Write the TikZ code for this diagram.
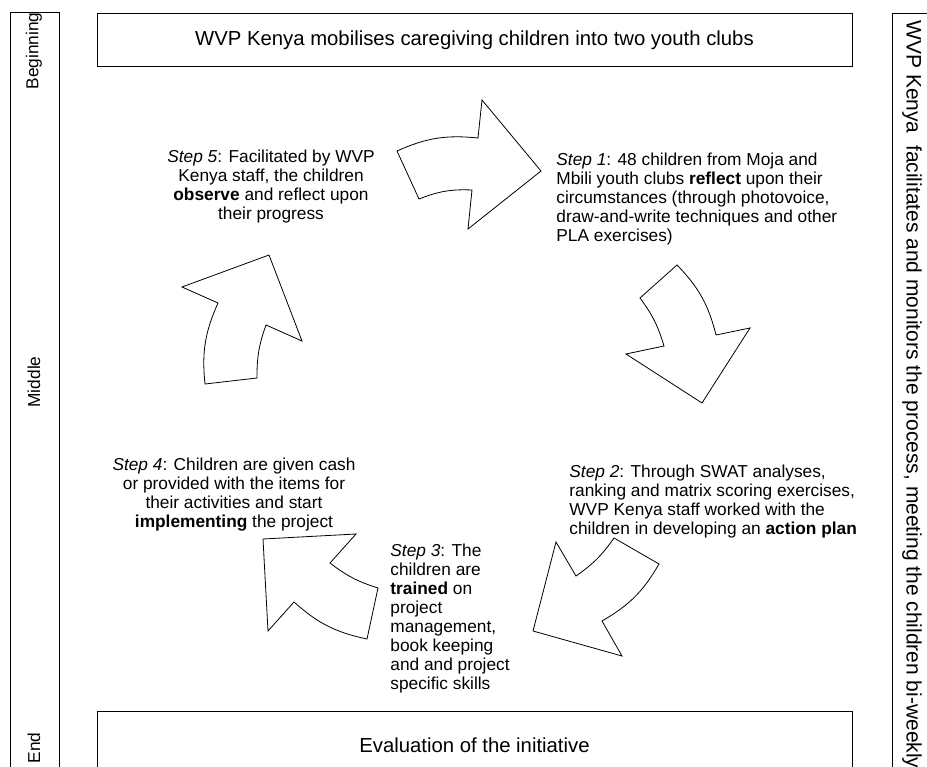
\documentclass[tikz,border=0pt]{standalone}
\usepackage{fontspec}
\setmainfont{Liberation Sans}
\newcommand{\fs}[2]{\fontsize{#1}{#2}\selectfont}
\begin{document}
\begin{tikzpicture}[x=1pt,y=-1pt,line width=0.8pt,
  txt/.style={inner sep=0pt},
  steptext/.style={inner sep=0pt, font=\fs{17.3}{19}},
  bigtext/.style={inner sep=0pt, font=\fs{20.3}{22}},
  frame/.style={draw, inner sep=0pt},
  blockarrow/.style={draw, line join=miter, fill=white}]
\useasboundingbox (0,0) rectangle (927,767);
\clip (0,0) rectangle (927,767);

% side bars
\node[frame, anchor=north west, minimum width=49pt, minimum height=800pt] (leftbar) at (10,12) {};
\node[frame, anchor=north west, minimum width=60pt, minimum height=800pt] (rightbar) at (892,13) {};
\node[steptext, rotate=90] (beg) at (34,51) {Beginning};
\node[steptext, rotate=90] (mid) at (34,382) {Middle};
\node[steptext, rotate=90] (end) at (34,748) {End};
\node[txt, font=\fs{21}{22}, rotate=-90, anchor=west] (monitor) at (912,20) {WVP Kenya\ \ facilitates and monitors the process, meeting the children bi-weekly};

% top and bottom boxes
\node[frame, minimum width=755pt, minimum height=53pt] (topbox) at (474.5,39.5) {};
\node[bigtext] (toptext) at (474.5,40) {WVP Kenya mobilises caregiving children into two youth clubs};
\node[frame, anchor=north west, minimum width=755pt, minimum height=80pt] (botbox) at (97,711) {};
\node[bigtext] (bottext) at (474.5,745) {Evaluation of the initiative};

% arrows
\draw[blockarrow] (397,151) to[bend left=15] (478,138) -- (482,100) -- (541,171) -- (468,229) -- (472,190) to[bend right=12] (419,199) -- cycle;
\draw[blockarrow] (677,265) to[bend left=15] (716,335) -- (750,328) -- (702,403) -- (626,354) -- (664,346) to[bend right=10] (640,298) -- cycle;
\draw[blockarrow] (659,564) to[bend left=15] (602,621) -- (622,656) -- (533,631) -- (556,542) -- (576,576) to[bend right=10] (614,538) -- cycle;
\draw[blockarrow] (367,639) to[bend left=15] (294,602) -- (268,631) -- (263,539) -- (356,534) -- (330,563) to[bend right=10] (378,588) -- cycle;
\draw[blockarrow] (205,384) to[bend left=15] (218,303) -- (182,287) -- (269,255) -- (302,341) -- (266,325) to[bend right=10] (257,378) -- cycle;

% step texts
\node[steptext, anchor=north, align=center] (s5) at (271,150) {\textit{Step 5}: Facilitated by WVP\\Kenya staff, the children\\\textbf{observe} and reflect upon\\their progress};
\node[steptext, anchor=north west, align=left] (s1) at (556,153) {\textit{Step 1}: 48 children from Moja and\\Mbili youth clubs \textbf{reflect} upon their\\circumstances (through photovoice,\\draw-and-write techniques and other\\PLA exercises)};
\node[steptext, anchor=north west, align=left] (s2) at (569,465) {\textit{Step 2}: Through SWAT analyses,\\ranking and matrix scoring exercises,\\WVP Kenya staff worked with the\\children in developing an \textbf{action plan}};
\node[steptext, anchor=north, align=center] (s4) at (234,458) {\textit{Step 4}: Children are given cash\\or provided with the items for\\their activities and start\\\textbf{implementing} the project};
\node[steptext, anchor=north west, align=left] (s3) at (390,544) {\textit{Step 3}: The\\children are\\\textbf{trained} on\\project\\management,\\book keeping\\and and project\\specific skills};
\end{tikzpicture}
\end{document}
